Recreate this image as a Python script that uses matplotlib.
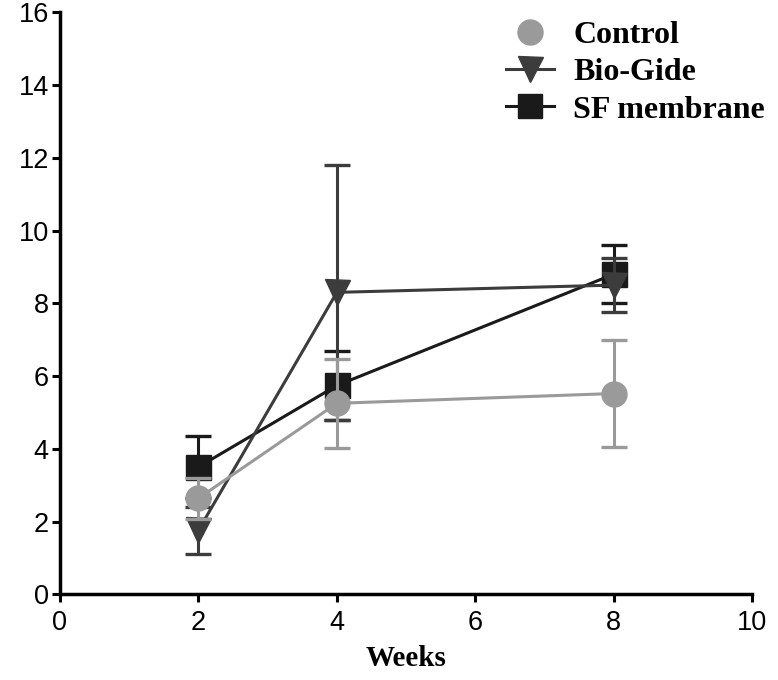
import matplotlib
matplotlib.use("Agg")
import matplotlib.pyplot as plt
from matplotlib.lines import Line2D

weeks = [2, 4, 8]
control_mean = [2.64, 5.25, 5.52]
control_sd = [0.56, 1.23, 1.48]
biogide_mean = [1.76, 8.3, 8.5]
biogide_sd = [0.64, 3.5, 0.75]
sf_mean = [3.5, 5.74, 8.8]
sf_sd = [0.86, 0.96, 0.8]

labels = ["Control", "Bio-Gide", "SF membrane"]
colors = ["#9a9a9a", "#3c3c3c", "#1a1a1a"]
markers = ["o", "v", "s"]

fig = plt.figure(figsize=(7.78, 6.8), dpi=100)
ax = fig.add_axes([0.077, 0.126, 0.89, 0.856])

series = [(sf_mean, sf_sd, 2), (biogide_mean, biogide_sd, 1), (control_mean, control_sd, 0)]
for mean, sd, i in series:
    ax.errorbar(weeks, mean, yerr=sd, color=colors[i], marker=markers[i],
                markersize=18, linewidth=2.2, elinewidth=2.2, capsize=9.5,
                capthick=2.4, zorder=3 + (2 - i))

ax.set_xlim(0, 10)
ax.set_ylim(0, 16)
ax.set_xticks([0, 2, 4, 6, 8, 10])
ax.set_yticks(range(0, 17, 2))
for s in ["top", "right"]:
    ax.spines[s].set_visible(False)
for s in ["left", "bottom"]:
    ax.spines[s].set_linewidth(2.5)
ax.tick_params(width=2.2, length=6, labelsize=19.5)
ax.tick_params(axis="x", pad=5)
ax.tick_params(axis="y", pad=2)
for lab in ax.get_xticklabels() + ax.get_yticklabels():
    lab.set_fontfamily("Liberation Sans")
ax.set_xlabel("Weeks", fontfamily="Liberation Serif", fontweight="bold",
              fontsize=21, labelpad=7)

handles = [
    Line2D([], [], color=colors[0], marker="o", linestyle="none", markersize=18),
    Line2D([], [], color=colors[1], marker="v", linewidth=2.2, markersize=18),
    Line2D([], [], color=colors[2], marker="s", linewidth=2.2, markersize=17),
]
leg = ax.legend(handles, labels, loc="upper right", frameon=False,
                bbox_to_anchor=(1.06, 1.035), handlelength=1.5,
                labelspacing=0.25, handletextpad=0.6,
                prop={"family": "Liberation Serif", "weight": "bold", "size": 23})

fig.savefig("out.png", dpi=100)
